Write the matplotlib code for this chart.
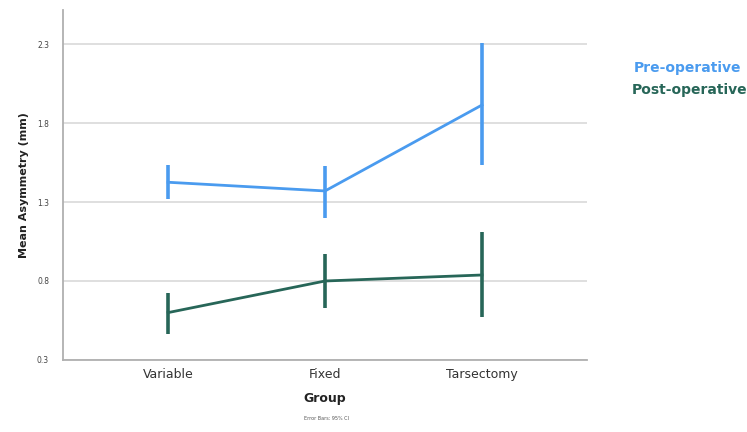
import numpy as np
import matplotlib.pyplot as plt

# Group means with 95% CI bounds
groups = ["Variable", "Fixed", "Tarsectomy"]
pre_mean = [1.425, 1.37, 1.914]
pre_low = [1.317, 1.197, 1.534]
pre_high = [1.534, 1.528, 2.308]
post_mean = [0.60, 0.80, 0.838]
post_low = [0.465, 0.627, 0.570]
post_high = [0.726, 0.969, 1.112]
yticks = [0.3, 0.8, 1.3, 1.8, 2.3]

BLUE = "#4a9bef"
GREEN = "#276658"
GRID = "#d9d9d9"

fig = plt.figure(figsize=(7.47, 4.32), dpi=100)
ax = fig.add_axes([0.0843, 0.1667, 0.7017, 0.81])

x = np.arange(len(groups))
for mean, lo, hi, col in [(pre_mean, pre_low, pre_high, BLUE),
                          (post_mean, post_low, post_high, GREEN)]:
    mean = np.array(mean)
    yerr = [mean - np.array(lo), np.array(hi) - mean]
    ax.errorbar(x, mean, yerr=yerr, color=col, lw=2.0, elinewidth=2.6,
                capsize=0, zorder=3)

ax.set_xlim(-0.67, 2.67)
ax.set_ylim(0.3, 2.515)
ax.set_yticks(yticks)
ax.set_yticklabels([f"{v:.1f}" for v in yticks], fontsize=5.5, color="#444444")
ax.set_xticks(x)
ax.set_xticklabels(groups, fontsize=9, color="#333333")
ax.tick_params(length=0)
ax.tick_params(axis="y", pad=10)
ax.tick_params(axis="x", pad=6)
ax.grid(axis="y", color=GRID, lw=1.2)
ax.set_axisbelow(True)

for s in ["top", "right"]:
    ax.spines[s].set_visible(False)
for s in ["left", "bottom"]:
    ax.spines[s].set_color("#b0b0b0")
    ax.spines[s].set_linewidth(1.3)

ax.set_ylabel("Mean Asymmetry (mm)", fontsize=8, fontweight="bold", color="#222222",
              labelpad=6)
ax.set_xlabel("Group", fontsize=9, fontweight="bold", color="#222222", labelpad=8)

fig.text(0.437, 0.027, "Error Bars: 95% CI", fontsize=3.5, color="#555555", ha="center")

fig.text(0.921, 0.833, "Pre-operative", fontsize=10, fontweight="bold", color=BLUE, ha="center")
fig.text(0.923, 0.783, "Post-operative", fontsize=10, fontweight="bold", color=GREEN, ha="center")

fig.savefig("out.png", dpi=100)
